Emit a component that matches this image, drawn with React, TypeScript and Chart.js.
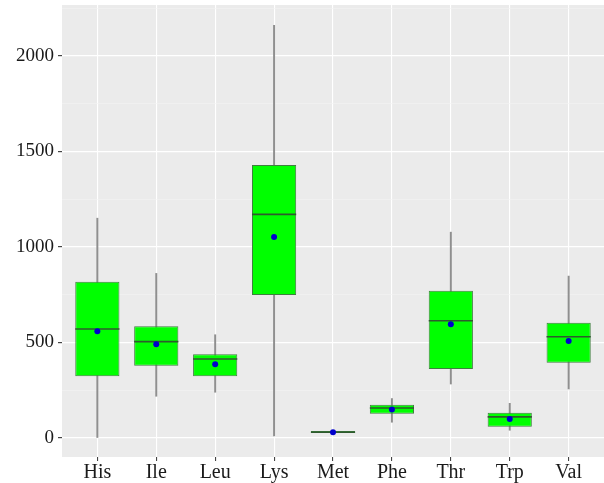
import React, { useEffect, useRef } from "react";
import { Chart, registerables } from "chart.js";

Chart.register(...registerables);

const categories = ["His", "Ile", "Leu", "Lys", "Met", "Phe", "Thr", "Trp", "Val"];
const whiskerLow = [2, 218, 239, 10, 25, 82, 282, 40, 256];
const q1 = [323, 378, 323, 748, 25, 127, 361, 58, 394];
const medians = [570, 504, 413, 1170, 30, 157, 613, 110, 530];
const q3 = [818, 584, 438, 1428, 36, 174, 770, 132, 603];
const whiskerHigh = [1150, 861, 540, 2160, 36, 206, 1077, 181, 847];
const means = [558, 490, 385, 1051, 30, 148, 595, 99, 507];
const yTickValues = [0, 250, 500, 750, 1000, 1250, 1500, 1750, 2000, 2250];
const yMin = -100;
const yMax = 2266;
const xMin = -0.6;
const xMax = 8.6;
const medianHalfThickness = 4;

const FONT = "'Liberation Serif', 'Times New Roman', serif";

const panelBg = {
  id: "panelBg",
  beforeDraw(chart: any) {
    const { ctx, chartArea, width, height } = chart;
    ctx.save();
    ctx.fillStyle = "#ffffff";
    ctx.fillRect(0, 0, width, height);
    ctx.fillStyle = "#EBEBEB";
    ctx.fillRect(chartArea.left, chartArea.top, chartArea.right - chartArea.left, chartArea.bottom - chartArea.top);
    ctx.restore();
  },
};

const zeroPad = (s: any) => {
  s.paddingTop = 0;
  s.paddingBottom = 0;
  s.paddingLeft = 0;
  s.paddingRight = 0;
};

export default function App() {
  const ref = useRef<HTMLCanvasElement | null>(null);

  useEffect(() => {
    if (!ref.current) return;
    const isMajor = (v: number) => v % 500 === 0;
    const idx = categories.map((_, i) => i);
    const chart = new Chart(ref.current, {
      type: "bar",
      data: {
        datasets: [
          {
            type: "scatter",
            label: "mean",
            data: idx.map((i) => ({ x: i, y: means[i] })),
            showLine: false,
            pointStyle: "circle",
            pointRadius: 3,
            pointHoverRadius: 0,
            pointBackgroundColor: "#0000CC",
            pointBorderColor: "#0000CC",
            pointBorderWidth: 0,
            order: 0,
          } as any,
          {
            type: "bar",
            label: "median",
            data: idx.map((i) => ({ x: i, y: [medians[i] - medianHalfThickness, medians[i] + medianHalfThickness] })),
            backgroundColor: "#2E5A2E",
            borderWidth: 0,
            grouped: false,
            categoryPercentage: 1,
            barPercentage: 0.75,
            order: 1,
          } as any,
          {
            type: "bar",
            label: "box",
            data: idx.map((i) => ({ x: i, y: [q1[i], q3[i]] })),
            backgroundColor: "#00FF00",
            borderColor: "#3F7F3F",
            borderWidth: 1,
            borderSkipped: false,
            grouped: false,
            categoryPercentage: 1,
            barPercentage: 0.75,
            order: 2,
          } as any,
          {
            type: "bar",
            label: "whisker",
            data: idx.map((i) => ({ x: i, y: [whiskerLow[i], whiskerHigh[i]] })),
            backgroundColor: "#8F8F8F",
            borderWidth: 0,
            grouped: false,
            barThickness: 1.3,
            order: 3,
          } as any,
        ],
      },
      options: {
        responsive: false,
        animation: false,
        layout: { padding: { top: 5, right: 0, left: 0, bottom: 0 } },
        plugins: { legend: { display: false }, tooltip: { enabled: false } },
        scales: {
          x: {
            type: "linear",
            min: xMin,
            max: xMax,
            offset: false,
            border: { display: false },
            afterBuildTicks: (s: any) => {
              s.ticks = idx.map((v) => ({ value: v }));
            },
            grid: {
              offset: false,
              color: "#FFFFFF",
              lineWidth: 1.1,
              tickColor: "#444444",
              tickLength: 4,
              drawTicks: true,
            },
            ticks: {
              color: "#1A1A1A",
              padding: 0,
              autoSkip: false,
              maxRotation: 0,
              font: { family: FONT, size: 20 },
              callback: (v: any) => categories[Math.round(Number(v))] ?? "",
            },
            afterFit: (s: any) => {
              s.height = 26;
              zeroPad(s);
            },
          },
          y: {
            min: yMin,
            max: yMax,
            border: { display: false },
            afterBuildTicks: (s: any) => {
              s.ticks = yTickValues.map((v) => ({ value: v }));
            },
            grid: {
              color: (c: any) => (isMajor(c.tick?.value ?? 1) ? "#FFFFFF" : "#F4F4F4"),
              lineWidth: (c: any) => (isMajor(c.tick?.value ?? 1) ? 1.2 : 0.6),
              tickColor: (c: any) => (isMajor(c.tick?.value ?? 1) ? "#444444" : "rgba(0,0,0,0)"),
              tickLength: 4,
            },
            ticks: {
              color: "#1A1A1A",
              padding: 4,
              font: { family: FONT, size: 19 },
              callback: (v: any) => (Number(v) % 500 === 0 ? String(v) : ""),
            },
            afterFit: (s: any) => {
              s.width = 62;
              zeroPad(s);
            },
          },
        },
      },
      plugins: [panelBg],
    });
    return () => chart.destroy();
  }, []);

  return (
    <div style={{ position: "absolute", left: 0, top: 0, width: 604, height: 483, overflow: "hidden" }}>
      <canvas ref={ref} width={607} height={483} />
    </div>
  );
}
